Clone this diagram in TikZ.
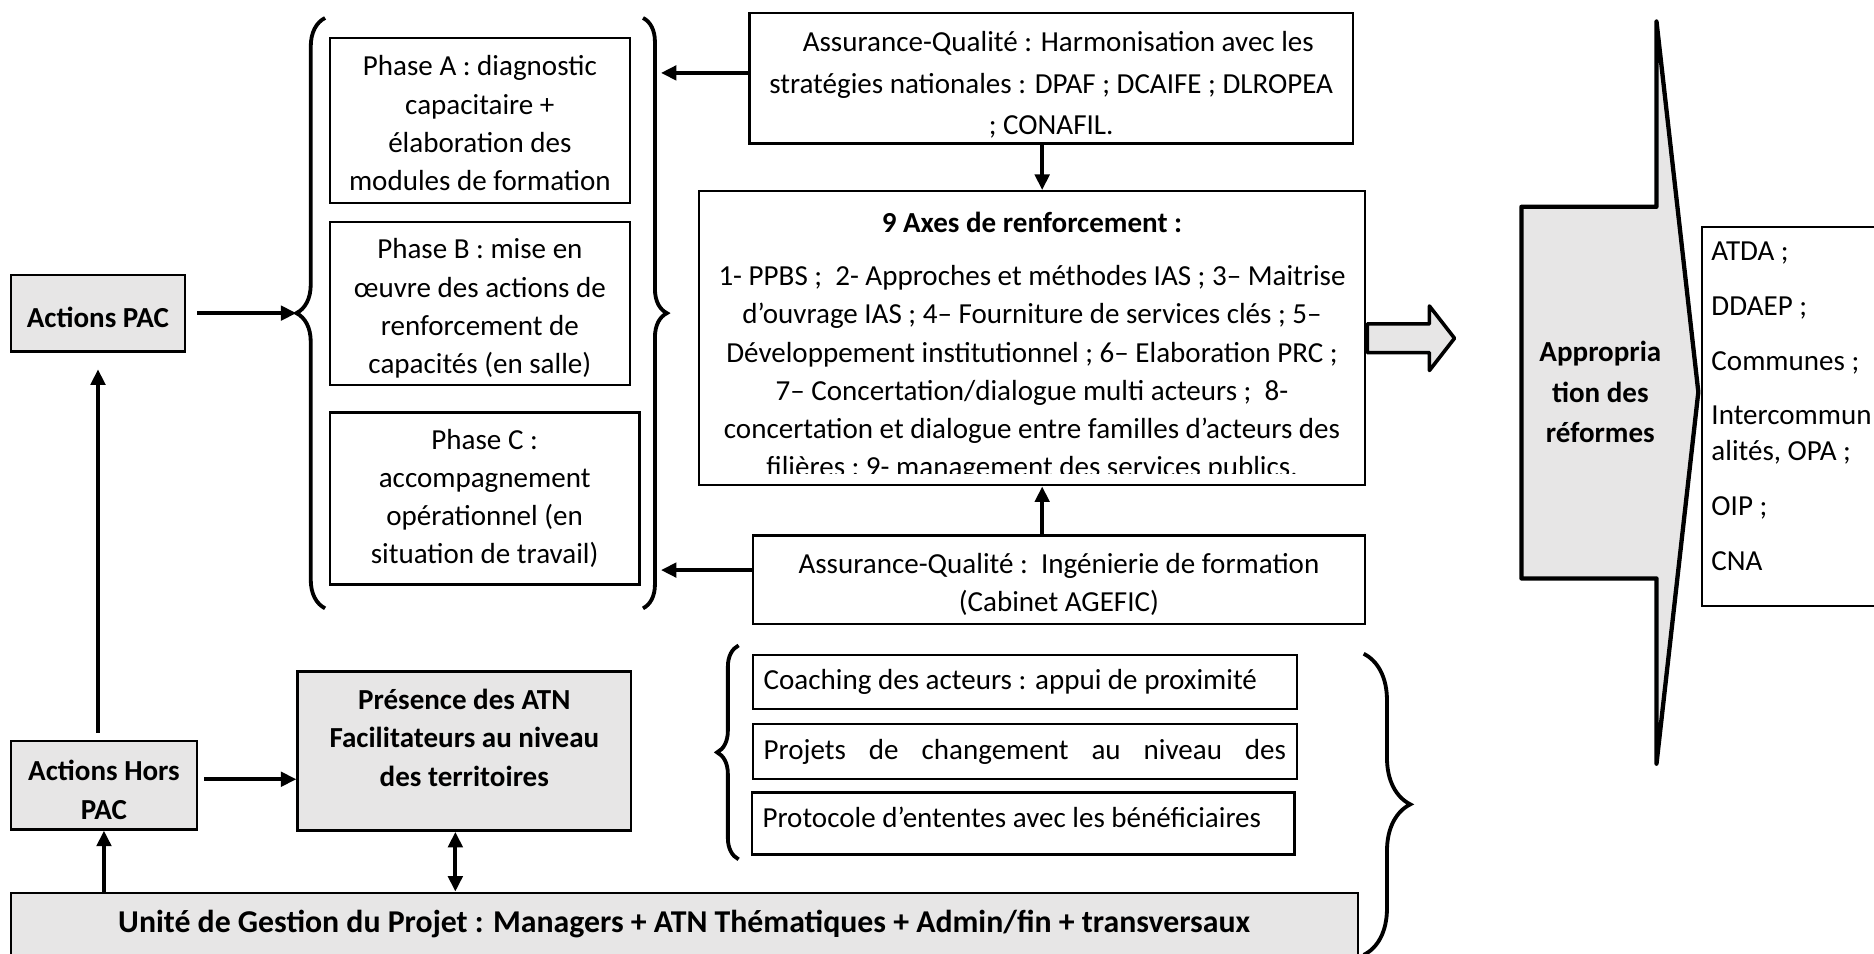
\documentclass[tikz,border=0pt]{standalone}
\usepackage{fontspec}
\setmainfont{Carlito}
\usetikzlibrary{arrows.meta,decorations.pathreplacing}
\definecolor{boxgray}{RGB}{231,230,230}
\newcommand{\myfs}{\fontsize{24.3pt}{32pt}\selectfont}
\begin{document}
\begin{tikzpicture}[x=1pt,y=-1pt,
  box/.style={draw, line width=2pt, fill=white, inner sep=0pt, font=\myfs, align=center},
  gbox/.style={box, fill=boxgray},
  conn/.style={line width=3.5pt, -{Triangle[length=13pt,width=12pt]}},
  dconn/.style={line width=3.5pt, {Triangle[length=13pt,width=12pt]}-{Triangle[length=13pt,width=12pt]}},
  bracestyle/.style={line width=3.2pt, decorate, decoration={brace, amplitude=#1}},
  blockarrow/.style={line width=3.6pt, fill=boxgray, line join=round},
]
\useasboundingbox (0,0) rectangle (1568,798);

% ---------- braces ----------
\draw[bracestyle=24pt] (272,509) -- (272,15);
\coordinate (lbtip) at (248,262);
\draw[bracestyle=20pt] (538,15) -- (538,509);
\coordinate (rb1) at (553,61);
\coordinate (rb2) at (553,477);
\draw[bracestyle=18pt] (618,719) -- (618,540);
\draw[bracestyle=39pt] (1141,547) -- (1141,799);

% ---------- phases ----------
\node[box, minimum width=251pt, minimum height=138pt] (phA) at (401.5,101)
  {\rule{0pt}{21pt}Phase A : diagnostic\\capacitaire +\\élaboration des\\modules de formation};
\node[box, minimum width=251pt, minimum height=136pt] (phB) at (401.5,254)
  {\rule{0pt}{25pt}Phase B : mise en\\œuvre des actions de\\renforcement de\\capacités (en salle)};
\node[box, minimum width=259pt, minimum height=144pt] (phC) at (405.5,417)
  {Phase C :\\accompagnement\\opérationnel (en\\situation de travail)};

% ---------- left column ----------
\node[gbox, minimum width=146pt, minimum height=64pt, font=\myfs\bfseries, text height=23.4pt, text depth=0pt] (pac) at (82,262) {Actions PAC};
\node[gbox, minimum width=156pt, minimum height=74pt, font=\myfs\bfseries] (hors) at (87,657)
  {\rule{0pt}{25pt}Actions Hors\\PAC};
\node[gbox, anchor=north west] (pres) at (248,561)
  {\parbox[c][133pt][t]{279pt}{\centering\bfseries\vspace*{14.7pt}Présence des ATN\\Facilitateurs au niveau\\des territoires}};
\node[gbox, minimum width=1127pt, minimum height=53pt, font=\fontsize{26.6pt}{32pt}\selectfont\bfseries] (ugp) at (572.5,773.5)
  {Unité de Gestion du Projet : Managers + ATN Thématiques + Admin/fin + transversaux};

% ---------- centre column ----------
\node[box, minimum width=505pt, minimum height=109pt, font=\fontsize{24.3pt}{34.5pt}\selectfont] (aq1) at (879.5,65.5)
  {\rule{0pt}{28pt}\hspace*{12pt}Assurance-Qualité : Harmonisation avec les\\stratégies nationales : DPAF ; DCAIFE ; DLROPEA\\; CONAFIL.};
\node[box, minimum width=557pt, minimum height=246pt, path picture={
    \clip ([yshift=10pt]path picture bounding box.south west) rectangle (path picture bounding box.north east);
    \node[anchor=north, align=center, inner sep=0pt, font=\myfs] (axtext) at ([yshift=-6.5pt]path picture bounding box.north)
      {{\bfseries 9 Axes de renforcement :}\\[12pt]
       1- PPBS ;\ \ 2- Approches et méthodes IAS ; 3– Maitrise\\
       d’ouvrage IAS ; 4– Fourniture de services clés ; 5–\\
       Développement institutionnel ; 6– Elaboration PRC ;\\
       7– Concertation/dialogue multi acteurs ;\ \ 8-\\
       concertation et dialogue entre familles d’acteurs des\\
       filières ; 9- management des services publics.};
  }] (axes) at (863.5,283) {};
\node[box, minimum width=512pt, minimum height=74pt] (aq2) at (886,485)
  {\rule{0pt}{25pt}Assurance-Qualité :\ \ Ingénierie de formation\\(Cabinet AGEFIC)};

\node[box, minimum height=45pt, inner xsep=9pt, text width=437pt, align=flush left] (coach) at (857.5,570.5)
  {Coaching des acteurs : appui de proximité};
\node[box, minimum height=46pt, inner xsep=9pt] (proj) at (857.5,629)
  {\makebox[437pt][s]{Projets de changement au niveau des}};
\node[box, minimum height=52pt, inner xsep=9pt, text width=436pt, align=flush left] (proto) at (856,689)
  {Protocole d’ententes avec les bénéficiaires\rule[-11pt]{0pt}{11pt}};

% ---------- block arrow ----------
\draw[blockarrow, line width=3pt] (axes.east) ++(1,-12) -- ++(52,0) -- ++(0,-15) -- ++(21,27)
  -- ++(-21,27) -- ++(0,-15) -- ++(-52,0) -- cycle;

% ---------- appropriation shape ----------
\draw[blockarrow] (1273,173) -- (1386,173) -- (1386,18) -- (1421,328) -- (1386,639)
  -- (1386,484) -- (1273,484) -- cycle;
\node[font=\fontsize{24.3pt}{34pt}\selectfont\bfseries, align=center] (appr) at (1339,328)
  {Appropria\\tion des\\réformes};
\node[box, anchor=north west, inner xsep=8pt] (lst) at (1423,189)
  {\parbox[c][317pt][t]{230pt}{\fontsize{24.3pt}{30pt}\selectfont\raggedright\vspace*{12pt}ATDA ;\\[16pt]DDAEP ;\\[16pt]Communes ;\\[16pt]Intercommun\\alités, OPA ;\\[16pt]OIP ;\\[16pt]CNA}};

% ---------- connectors ----------
\draw[conn, shorten <=9pt] (pac.east) -- (lbtip);
\draw[conn, shorten <=6pt, shorten >=14pt] (hors.north -| pac.south) -- (pac.south);
\draw[conn] (hors.south |- ugp.north) -- (hors.south);
\draw[conn, shorten <=5pt] ([yshift=5pt]hors.east) -- ([yshift=5pt]hors.east -| pres.west);
\draw[dconn] ([xshift=-7.5pt]pres.south) -- ([xshift=-7.5pt]pres.south |- ugp.north);
\draw[conn] (aq1.west |- rb1) -- (rb1);
\draw[conn] (aq2.west |- rb2) -- (rb2);
\draw[conn] ([xshift=-7.5pt]aq1.south) -- ([xshift=-7.5pt]aq1.south |- axes.north);
\draw[conn] ([xshift=-14pt]aq2.north) -- ([xshift=-14pt]aq2.north |- axes.south);
\end{tikzpicture}
\end{document}
